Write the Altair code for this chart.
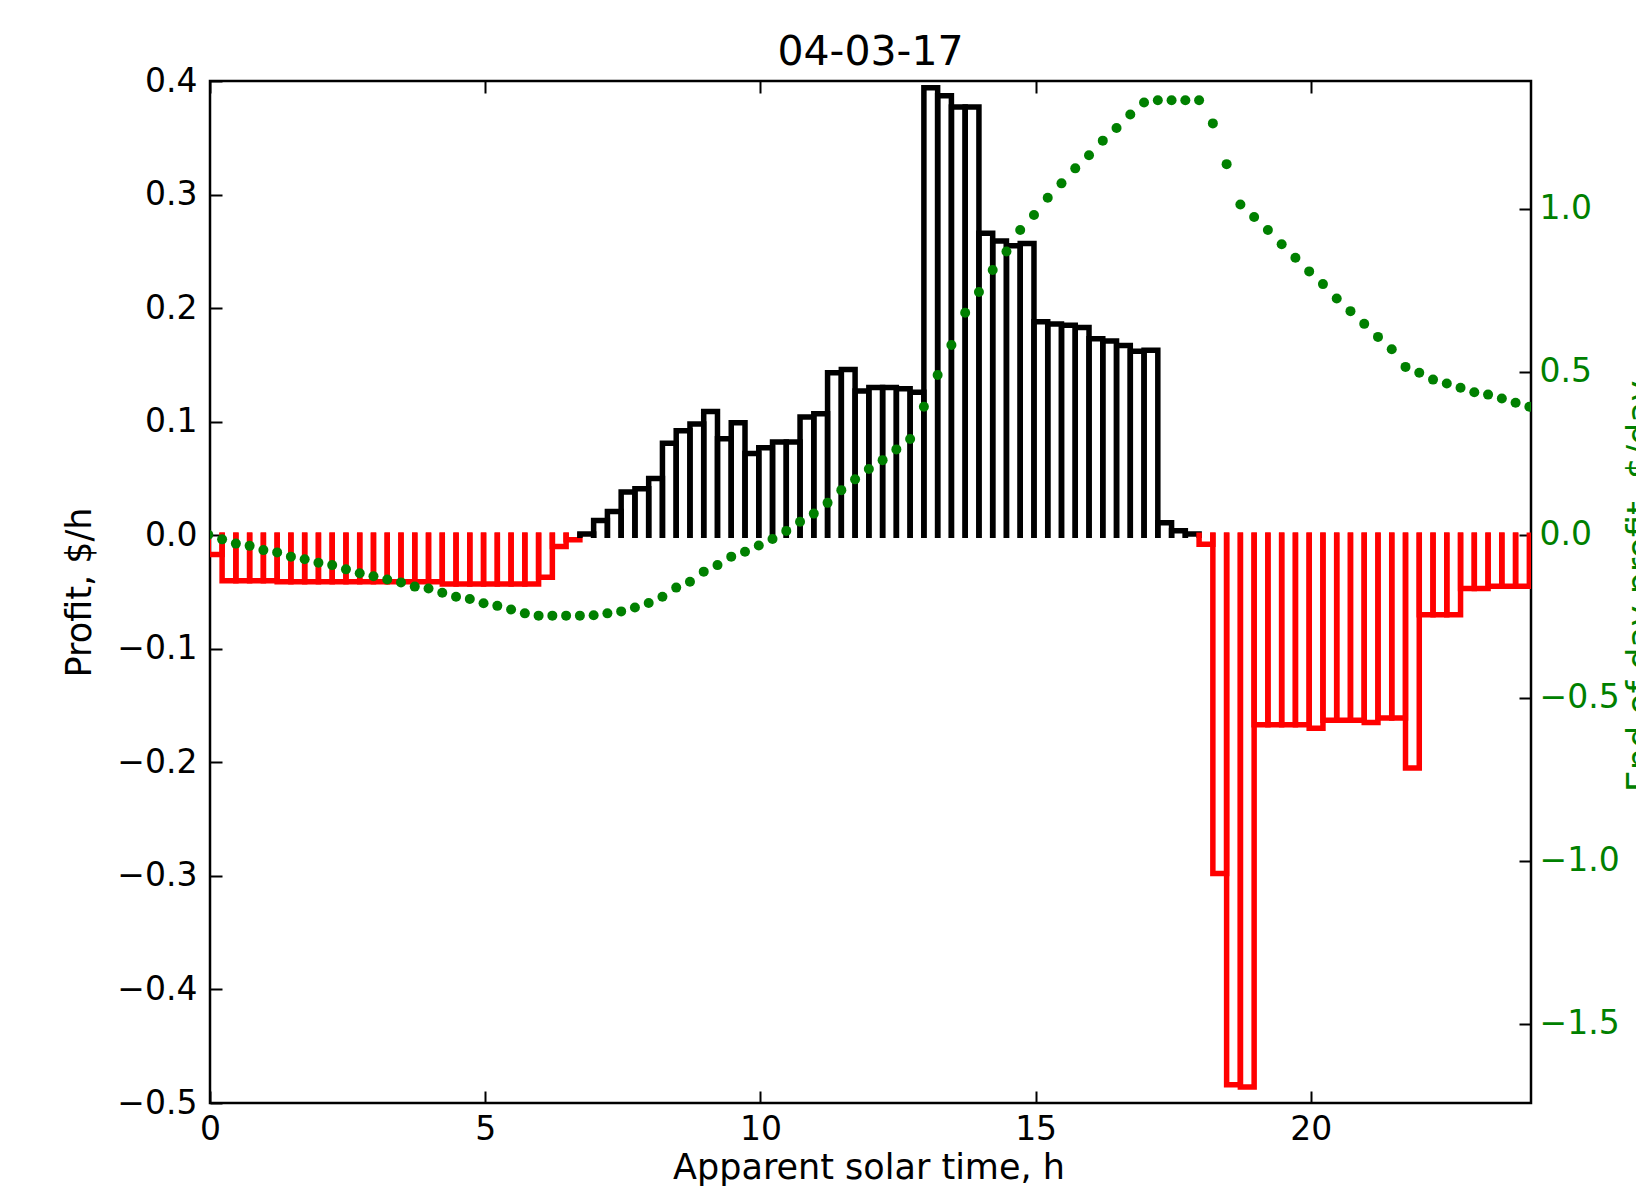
import altair as alt
import pandas as pd

# ---- data ----
# bar left edges: apparent solar time (h), 15-minute steps
t_first = -0.03
t_step = 0.25
n_edges = 97
edges = [round(t_first + t_step * k, 4) for k in range(n_edges)]

# hourly profit per 15-min interval, $/h (96 intervals)
profit = [
    -0.017,
    -0.040, -0.040, -0.040, -0.040,
    -0.041, -0.041, -0.041, -0.041, -0.041, -0.041, -0.041, -0.041, -0.041, -0.041, -0.041, -0.041,
    -0.043, -0.043, -0.043, -0.043, -0.043, -0.043, -0.043,
    -0.037, -0.010, -0.004,
    0.001, 0.013, 0.021, 0.038, 0.041, 0.050, 0.081, 0.092, 0.098, 0.109,
    0.085, 0.099, 0.072, 0.077, 0.082, 0.082, 0.104, 0.107, 0.143, 0.146,
    0.127, 0.130, 0.130, 0.129, 0.126,
    0.394, 0.387, 0.377, 0.377, 0.266, 0.259, 0.255, 0.257,
    0.188, 0.186, 0.185, 0.183, 0.173, 0.171, 0.167, 0.162, 0.163,
    0.011, 0.004, 0.001,
    -0.008, -0.298, -0.484, -0.486,
    -0.167, -0.167, -0.167, -0.167, -0.170, -0.163, -0.163, -0.163, -0.165, -0.161, -0.161,
    -0.205, -0.070, -0.070, -0.070,
    -0.047, -0.047, -0.045, -0.045, -0.045,
]

# running end-of-day profit, $/day (97 points at the bar edges)
cumulative = [
    0.000, -0.014, -0.027, -0.034, -0.047, -0.054, -0.067, -0.075, -0.086, -0.093,
    -0.106, -0.118, -0.127, -0.137, -0.146, -0.159, -0.165, -0.178, -0.190, -0.197,
    -0.210, -0.218, -0.229, -0.241, -0.248, -0.248, -0.248, -0.248, -0.247, -0.241,
    -0.235, -0.223, -0.209, -0.190, -0.162, -0.144, -0.113, -0.093, -0.067, -0.052,
    -0.033, -0.013, 0.012, 0.040, 0.065, 0.098, 0.137, 0.170, 0.202, 0.229,
    0.262, 0.294, 0.393, 0.490, 0.582, 0.681, 0.745, 0.812, 0.869, 0.935,
    0.981, 1.034, 1.078, 1.124, 1.164, 1.209, 1.248, 1.289, 1.326, 1.333,
    1.333, 1.333, 1.333, 1.262, 1.137, 1.013, 0.975, 0.935, 0.891, 0.850,
    0.808, 0.769, 0.725, 0.686, 0.647, 0.607, 0.569, 0.515, 0.497, 0.476,
    0.464, 0.451, 0.437, 0.430, 0.418, 0.405, 0.393,
]

x_ticks = [0, 5, 10, 15, 20]
left_ticks = [-0.5, -0.4, -0.3, -0.2, -0.1, 0.0, 0.1, 0.2, 0.3, 0.4]
right_ticks = [-1.5, -1.0, -0.5, 0.0, 0.5, 1.0]

# ---- tables ----
rows = []
for k, v in enumerate(profit):
    left, right = edges[k], edges[k + 1]
    sign = "neg" if v < 0 else "pos"
    for o, (t, y) in enumerate([(left, 0.0), (left, v), (right, v), (right, 0.0)]):
        rows.append({"t": t, "v": y, "bar": k, "o": o, "sign": sign})
df_bars = pd.DataFrame(rows)
df_dots = pd.DataFrame({"t": edges, "c": cumulative})

FONT = "DejaVu Sans"
GREEN = "#008000"
W, H = 1321, 1022

xscale = alt.Scale(domain=[0, 24], nice=False, zero=False)

bars = alt.Chart(df_bars).mark_line(
    strokeWidth=5.5, strokeJoin="miter", strokeCap="square", clip=True
).encode(
    x=alt.X("t:Q", scale=xscale, axis=alt.Axis(
        orient="bottom", values=x_ticks, format="d", tickSize=12, offset=-12,
        domain=False, grid=False, labelPadding=10, labelFontSize=33, labelFont=FONT,
        labelColor="black", tickColor="black", tickWidth=2, labelFlush=False,
        labelOverlap=False, title="Apparent solar time, h", titleFont=FONT,
        titleFontSize=35, titleFontWeight="normal", titleColor="black",
        titleX=W / 2 - 2, titleY=87, titleAlign="center", titleBaseline="alphabetic")),
    y=alt.Y("v:Q", scale=alt.Scale(domain=[-0.5, 0.4], nice=False, zero=False), axis=alt.Axis(
        orient="left", values=left_ticks, format=".1f", tickSize=12, offset=-12,
        domain=False, grid=False, labelPadding=13, labelFontSize=33, labelFont=FONT,
        labelColor="black", tickColor="black", tickWidth=2, labelFlush=False,
        labelOverlap=False, title="Profit, $/h", titleFont=FONT, titleFontSize=35,
        titleFontWeight="normal", titleColor="black", titleAngle=270,
        titleX=-143, titleY=H / 2, titleAlign="center", titleBaseline="middle")),
    detail="bar:N",
    order="o:Q",
    color=alt.Color("sign:N", scale=alt.Scale(domain=["neg", "pos"], range=["#ff0000", "#000000"]), legend=None),
)

dots = alt.Chart(df_dots).mark_circle(size=100, color=GREEN, opacity=1, clip=True).encode(
    x=alt.X("t:Q", scale=xscale, axis=alt.Axis(
        orient="top", values=x_ticks, labels=False, tickSize=12, offset=-12,
        domain=False, grid=False, tickColor="black", tickWidth=2, title=None)),
    y=alt.Y("c:Q", scale=alt.Scale(domain=[-1.743, 1.392], nice=False, zero=False), axis=alt.Axis(
        orient="right", values=right_ticks, format=".1f", tickSize=12, offset=-12,
        domain=False, grid=False, labelPadding=8, labelFontSize=33, labelFont=FONT,
        labelColor=GREEN, tickColor="black", tickWidth=2, labelFlush=False,
        labelOverlap=False, title="End of day profit, $/day", titleFont=FONT,
        titleFontSize=35, titleFontWeight="normal", titleColor=GREEN, titleAngle=270,
        titleX=104, titleY=H / 2 - 6, titleAlign="center", titleBaseline="top")),
)

chart = alt.layer(bars, dots).resolve_scale(y="independent").resolve_axis(x="independent").properties(
    width=W,
    height=H,
    autosize=alt.AutoSizeParams(type="none"),
    padding={"left": 202, "top": 73, "right": 105, "bottom": 85},
    background="white",
    title=alt.Title("04-03-17", font=FONT, fontSize=41, fontWeight="normal", color="black",
                    anchor="middle", baseline="alphabetic", offset=15, dy=56),
).configure_view(stroke="black", strokeWidth=2.5)

chart.save("out.html", embed_options={"renderer": "svg", "actions": False})
